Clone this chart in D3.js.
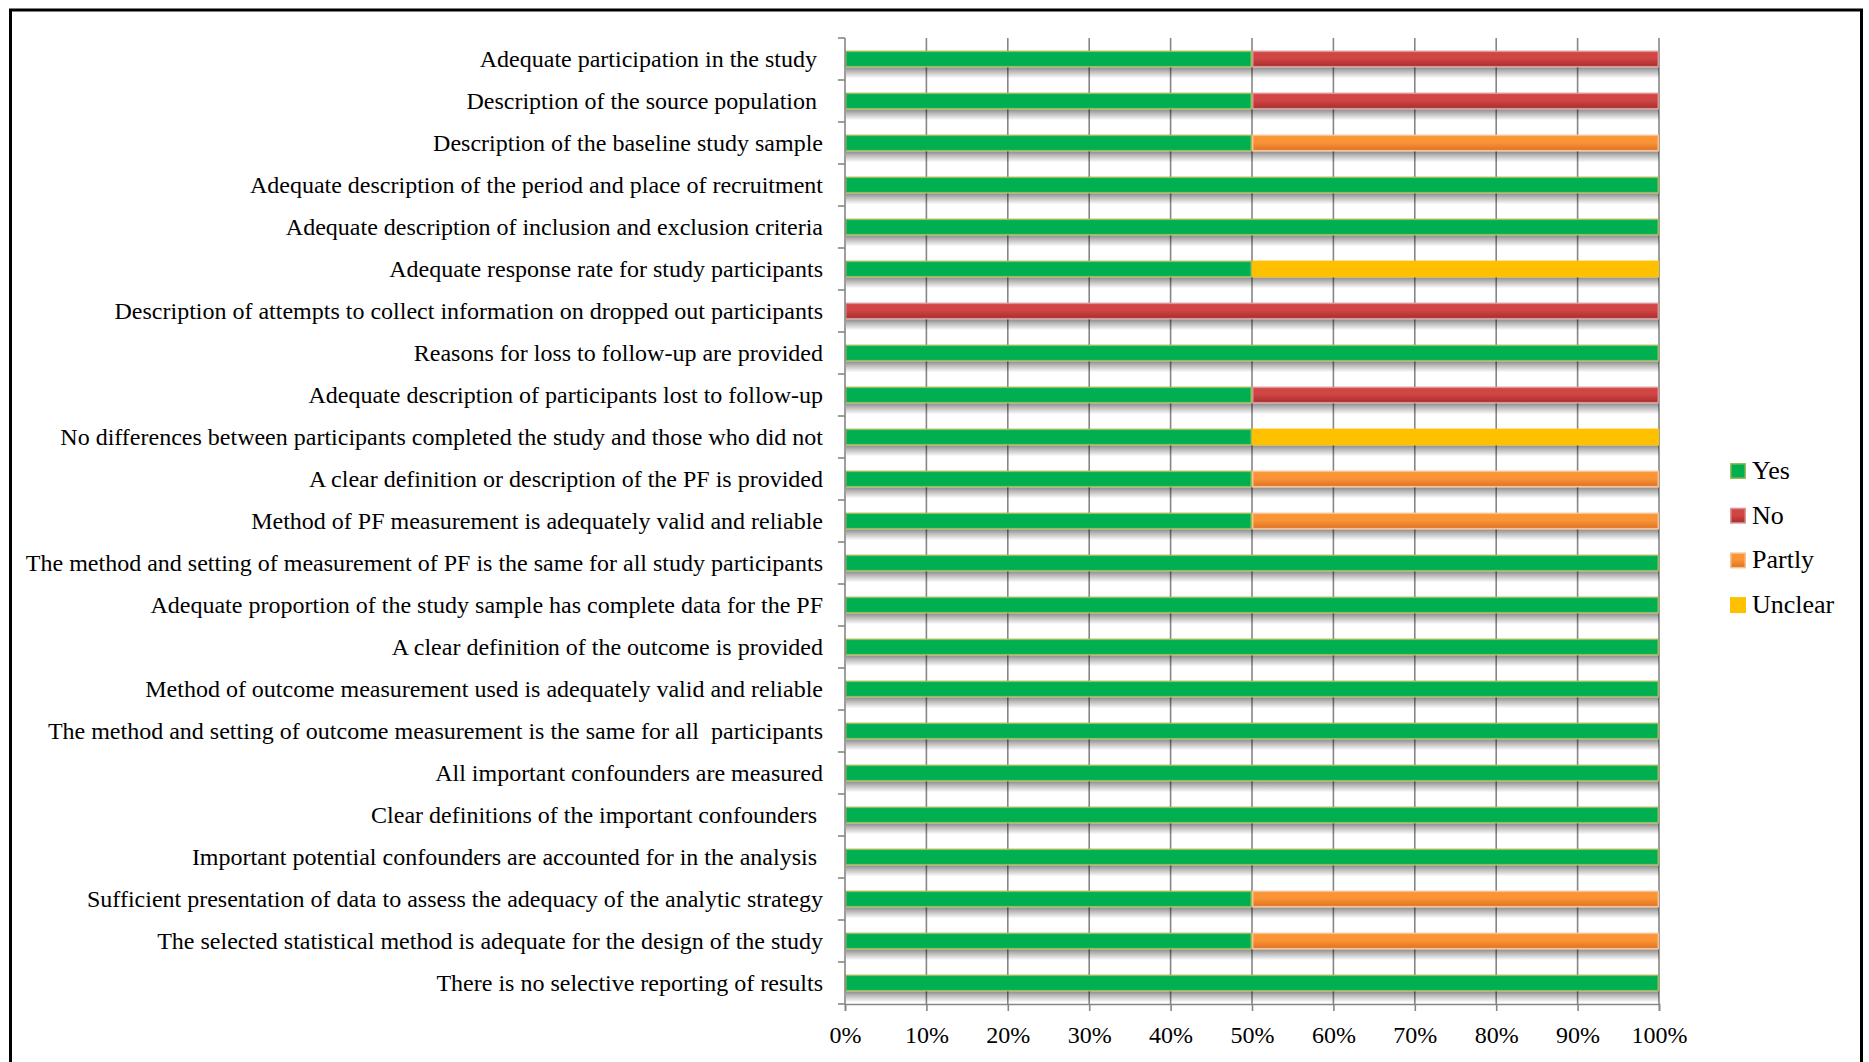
<!DOCTYPE html>
<html>
<head>
<meta charset="utf-8">
<script src="https://cdn.jsdelivr.net/npm/d3@7/dist/d3.min.js"></script>
<style>
  html, body { margin: 0; padding: 0; background: #fff; }
  svg { display: block; }
  text { font-family: "Liberation Serif", "Times New Roman", serif; fill: #000; }
</style>
</head>
<body>
<svg id="chart" width="1869" height="1062"></svg>
<script>
const categories = [
  "Adequate participation in the study ",
  "Description of the source population ",
  "Description of the baseline study sample",
  "Adequate description of the period and place of recruitment",
  "Adequate description of inclusion and exclusion criteria",
  "Adequate response rate for study participants",
  "Description of attempts to collect information on dropped out participants",
  "Reasons for loss to follow-up are provided",
  "Adequate description of participants lost to follow-up",
  "No differences between participants completed the study and those who did not",
  "A clear definition or description of the PF is provided",
  "Method of PF measurement is adequately valid and reliable",
  "The method and setting of measurement of PF is the same for all study participants",
  "Adequate proportion of the study sample has complete data for the PF",
  "A clear definition of the outcome is provided",
  "Method of outcome measurement used is adequately valid and reliable",
  "The method and setting of outcome measurement is the same for all  participants",
  "All important confounders are measured",
  "Clear definitions of the important confounders ",
  "Important potential confounders are accounted for in the analysis ",
  "Sufficient presentation of data to assess the adequacy of the analytic strategy",
  "The selected statistical method is adequate for the design of the study",
  "There is no selective reporting of results"
];
const seriesNames = ["Yes", "No", "Partly", "Unclear"];
const yesValues     = [50, 50, 50, 100, 100, 50, 0, 100, 50, 50, 50, 50, 100, 100, 100, 100, 100, 100, 100, 100, 50, 50, 100];
const noValues      = [50, 50, 0, 0, 0, 0, 100, 0, 50, 0, 0, 0, 0, 0, 0, 0, 0, 0, 0, 0, 0, 0, 0];
const partlyValues  = [0, 0, 50, 0, 0, 0, 0, 0, 0, 0, 50, 50, 0, 0, 0, 0, 0, 0, 0, 0, 50, 50, 0];
const unclearValues = [0, 0, 0, 0, 0, 50, 0, 0, 0, 50, 0, 0, 0, 0, 0, 0, 0, 0, 0, 0, 0, 0, 0];
const tickValues = [0, 10, 20, 30, 40, 50, 60, 70, 80, 90, 100];
const tickLabels = ["0%", "10%", "20%", "30%", "40%", "50%", "60%", "70%", "80%", "90%", "100%"];

const rows = categories.map((c, i) => ({
  cat: c, Yes: yesValues[i], No: noValues[i], Partly: partlyValues[i], Unclear: unclearValues[i]
}));

const svg = d3.select("#chart");
const defs = svg.append("defs");

// frame
svg.append("rect").attr("x", 10.5).attr("y", 10).attr("width", 1851).attr("height", 1100)
  .attr("fill", "none").attr("stroke", "#000").attr("stroke-width", 3);

const L = 845, R = 1659, T = 38, B = 1004;
const x = d3.scaleLinear().domain([0, 100]).range([L, R]);
const y = d3.scaleBand().domain(categories).range([T, B]).paddingInner(0.6).paddingOuter(0.3);

// gradients
const styles = {
  Yes:     { top: "#00B050", bot: "#00B050", stroke: "#9BBB59" },
  No:      { top: "#D24545", bot: "#A32E2C", stroke: "#D99694" },
  Partly:  { top: "#FA9434", bot: "#DD7226", stroke: "#FAC090" },
  Unclear: { top: "#FFC000", bot: "#FFC000", stroke: "#FFC000" }
};
seriesNames.forEach(s => {
  const g = defs.append("linearGradient").attr("id", "g" + s)
    .attr("x1", 0).attr("y1", 0).attr("x2", 0).attr("y2", 1);
  g.append("stop").attr("offset", "0%").attr("stop-color", styles[s].top);
  g.append("stop").attr("offset", "45%").attr("stop-color", styles[s].top);
  g.append("stop").attr("offset", "100%").attr("stop-color", styles[s].bot);
});
const sh = defs.append("linearGradient").attr("id", "shadow")
  .attr("x1", 0).attr("y1", 0).attr("x2", 0).attr("y2", 1);
sh.append("stop").attr("offset", "0%").attr("stop-color", "#000").attr("stop-opacity", 0.45);
sh.append("stop").attr("offset", "35%").attr("stop-color", "#000").attr("stop-opacity", 0.28);
sh.append("stop").attr("offset", "100%").attr("stop-color", "#000").attr("stop-opacity", 0);

// gridlines
svg.append("g").selectAll("line").data(tickValues.slice(1)).join("line")
  .attr("x1", d => x(d)).attr("x2", d => x(d))
  .attr("y1", T).attr("y2", B)
  .attr("stroke", "#868686").attr("stroke-width", 1.6);

// shadows
svg.append("g").selectAll("rect").data(rows.filter(r => (r.Yes + r.No + r.Partly + r.Unclear) > 0)).join("rect")
  .attr("x", x(0) + 1).attr("width", x(100) - x(0) - 1)
  .attr("y", d => y(d.cat) + y.bandwidth())
  .attr("height", 11)
  .attr("fill", "url(#shadow)");

// bars
const stack = d3.stack().keys(seriesNames);
const stacked = stack(rows);
const barG = svg.append("g");
stacked.forEach(layer => {
  const s = layer.key;
  barG.append("g").selectAll("rect").data(layer.filter(d => d[1] - d[0] > 0)).join("rect")
    .attr("x", d => x(d[0]) + 0.75)
    .attr("width", d => x(d[1]) - x(d[0]) - 1.5)
    .attr("y", d => y(d.data.cat) + 0.75)
    .attr("height", y.bandwidth() - 1.5)
    .attr("fill", "url(#g" + s + ")")
    .attr("stroke", styles[s].stroke).attr("stroke-width", 1.5);
});

// left axis
const boundaries = d3.range(categories.length + 1);
const yb = d3.scaleLinear().domain([0, categories.length]).range([T, B]);
const axG = svg.append("g").attr("stroke", "#868686").attr("stroke-width", 1.6);
axG.append("line").attr("x1", L).attr("x2", L).attr("y1", T).attr("y2", B);
axG.selectAll("line.tk").data(boundaries).join("line").attr("class", "tk")
  .attr("x1", L - 7).attr("x2", L).attr("y1", d => yb(d)).attr("y2", d => yb(d));

// category labels
svg.append("g").selectAll("text").data(categories).join("text")
  .attr("x", 823)
  .attr("y", d => y(d) + y.bandwidth() / 2)
  .attr("dy", "0.35em")
  .attr("text-anchor", "end")
  .attr("font-size", 24)
  .style("white-space", "pre")
  .text(d => d);

// bottom axis
const xAxis = d3.axisBottom(x).tickValues(tickValues).tickSize(7).tickPadding(15)
  .tickFormat((d, i) => tickLabels[i]);
const xg = svg.append("g").attr("transform", `translate(0,${B})`).call(xAxis);
xg.select(".domain").attr("stroke", "#868686").attr("stroke-width", 1.6);
xg.selectAll(".tick line").attr("stroke", "#868686").attr("stroke-width", 1.6);
xg.selectAll(".tick text").attr("font-size", 24)
  .attr("font-family", "Liberation Serif").attr("fill", "#000");

// legend
const leg = svg.append("g").attr("transform", "translate(1730,471)");
const li = leg.selectAll("g").data(seriesNames).join("g")
  .attr("transform", (d, i) => `translate(0,${i * 44.7})`);
li.append("rect").attr("x", 0.75).attr("y", -7.25).attr("width", 14.5).attr("height", 14.5)
  .attr("fill", d => `url(#g${d})`).attr("stroke", d => styles[d].stroke).attr("stroke-width", 1.5);
li.append("text").attr("x", 22).attr("y", 0).attr("dy", "0.3em")
  .attr("font-size", 26).text(d => d);
</script>
</body>
</html>
